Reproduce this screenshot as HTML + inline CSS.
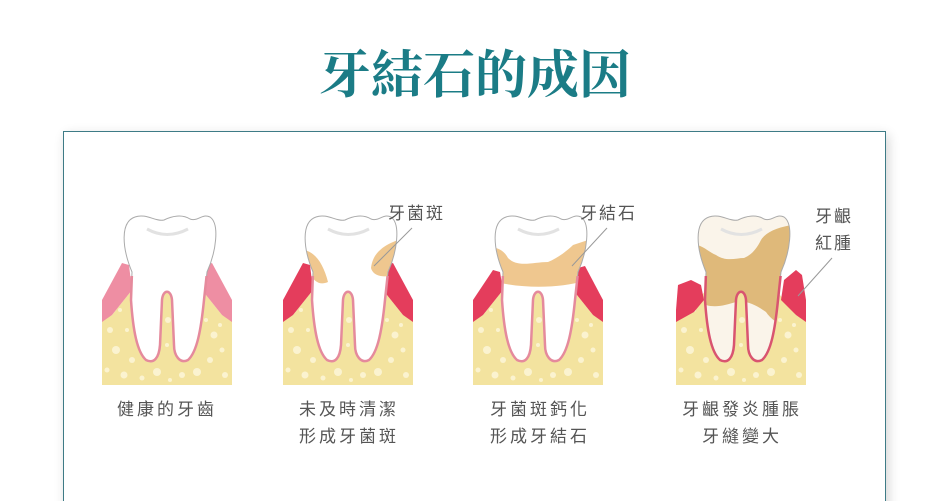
<!DOCTYPE html>
<html><head><meta charset="utf-8"><style>
html,body{margin:0;padding:0;background:#fff;width:950px;height:501px;overflow:hidden}
body{font-family:"Liberation Sans","Noto Sans CJK TC",sans-serif}
</style></head><body>
<svg width="950" height="501" viewBox="0 0 950 501" xmlns="http://www.w3.org/2000/svg">
<defs>
<filter id="sh" x="-5%" y="-5%" width="115%" height="115%"><feGaussianBlur stdDeviation="6"/></filter>
<path id="tooth" d="M30,272 C20,248 18,222 33,217 C44,213 54,222 62,220 C70,216 80,214 88,219 C96,222 100,213 108,217 C118,224 114,252 105,272 L102,300 C99,330 95,352 86,360 C78,364 72,356 72,345 L70,300 C69,289 61,289 60,300 L58,345 C57,358 52,364 44,360 C35,352 31,330 29,300 Z"/>
<clipPath id="tc"><use href="#tooth"/></clipPath>
<clipPath id="rc"><rect x="-10" y="276" width="150" height="120"/></clipPath>
<clipPath id="bc"><polygon points="0,320 10,315 30,290 100,290 120,315 130,320 130,385 0,385"/></clipPath>
<g id="bone">
<polygon points="0,320 10,315 30,290 100,290 120,315 130,320 130,385 0,385" fill="#f3e39f"/>
<g clip-path="url(#bc)" fill="#fbf3d0">
<circle cx="8" cy="330" r="3"/><circle cx="14" cy="350" r="4"/><circle cx="5" cy="370" r="2.5"/><circle cx="22" cy="375" r="3.5"/><circle cx="25" cy="330" r="2"/><circle cx="30" cy="360" r="3"/><circle cx="40" cy="378" r="2.5"/><circle cx="55" cy="372" r="4"/><circle cx="68" cy="380" r="2"/><circle cx="66" cy="320" r="3"/><circle cx="65" cy="345" r="2"/><circle cx="80" cy="375" r="3"/><circle cx="95" cy="372" r="4"/><circle cx="108" cy="360" r="3"/><circle cx="112" cy="335" r="3.5"/><circle cx="120" cy="350" r="2.5"/><circle cx="123" cy="375" r="3"/><circle cx="104" cy="320" r="2"/><circle cx="18" cy="310" r="2"/><circle cx="118" cy="325" r="2"/>
</g>
</g>
<g id="smile"><path d="M45,229 Q65,240 86,229" fill="none" stroke="#e2e2e2" stroke-width="3"/></g>
<g id="outline">
<use href="#tooth" fill="none" stroke="#aaa" stroke-width="1"/>
</g>
</defs>

<text x="475" y="93" text-anchor="middle" font-family="'Liberation Serif','Noto Serif CJK SC',serif" font-size="52" font-weight="bold" fill="#1b7c86">牙結石的成因</text>

<rect x="66" y="135" width="822" height="380" fill="#000" opacity="0.18" filter="url(#sh)"/>
<rect x="63.5" y="131.5" width="822" height="380" fill="#fff" stroke="#3e7b86" stroke-width="1"/>

<!-- tooth 1 -->
<g transform="translate(102,0)">
<use href="#bone"/>
<polygon points="0,300 20,263 27,265 30,290 10,315 0,322" fill="#ee8ea3"/>
<polygon points="130,300 110,263 103,265 100,290 120,315 130,322" fill="#ee8ea3"/>
<use href="#tooth" fill="#fff"/>
<use href="#outline"/>
<use href="#tooth" fill="none" stroke="#e58a9c" stroke-width="2.5" clip-path="url(#rc)"/>
<use href="#smile"/>
</g>

<!-- tooth 2 -->
<g transform="translate(283,0)">
<use href="#bone"/>
<polygon points="0,300 20,263 27,265 30,290 10,315 0,322" fill="#e43d5c"/>
<polygon points="130,300 110,263 103,265 100,290 120,315 130,322" fill="#e43d5c"/>
<use href="#tooth" fill="#fff"/>
<g clip-path="url(#tc)" fill="#efc78f">
<path d="M15,250 C30,248 40,262 45,282 C38,285 32,283 28,275 L15,270 Z"/>
<path d="M115,240 C105,244 90,250 88,268 C90,276 100,278 110,275 Z"/>
</g>
<use href="#outline"/>
<use href="#tooth" fill="none" stroke="#e58a9c" stroke-width="2.5" clip-path="url(#rc)"/>
<use href="#smile"/>
</g>

<!-- tooth 3 -->
<g transform="translate(473,0)">
<use href="#bone"/>
<polygon points="0,300 20,270 27,272 30,290 10,315 0,322" fill="#e43d5c"/>
<polygon points="130,300 112,266 105,268 100,290 120,315 130,322" fill="#e43d5c"/>
<use href="#tooth" fill="#fff"/>
<g clip-path="url(#tc)" fill="#efc78f">
<path d="M15,248 C25,246 32,252 35,258 C45,268 60,262 75,262 C85,258 95,250 100,245 L115,240 L115,280 C90,288 50,290 15,280 Z"/>
</g>
<use href="#outline"/>
<use href="#tooth" fill="none" stroke="#e58a9c" stroke-width="2.5" clip-path="url(#rc)"/>
<use href="#smile"/>
</g>

<!-- tooth 4 -->
<g transform="translate(676,0)">
<use href="#bone"/>
<polygon points="0,310 2,285 15,280 25,285 28,300 18,312 0,322" fill="#e43d5c"/>
<polygon points="130,300 126,275 120,270 108,280 105,300 120,315 130,322" fill="#e43d5c"/>
<use href="#tooth" fill="#faf4ea"/>
<g clip-path="url(#tc)" fill="#dfb97a">
<path d="M15,245 C25,243 32,252 40,255 C50,262 60,258 68,258 C75,255 80,250 85,240 C90,232 100,228 115,225 L115,330 C105,325 95,320 90,312 C80,305 70,300 60,302 C50,305 40,308 30,305 L15,300 Z"/>
</g>
<use href="#outline"/>
<use href="#tooth" fill="none" stroke="#d95470" stroke-width="2.5" clip-path="url(#rc)"/>
<use href="#smile"/>
</g>

<!-- callout lines -->
<g stroke="#999" stroke-width="1">
<line x1="412" y1="228" x2="374" y2="266"/>
<line x1="607" y1="228" x2="572" y2="266"/>
<line x1="832" y1="258" x2="798" y2="296"/>
</g>
<g font-size="17" fill="#555" letter-spacing="2">
<text x="388" y="219">牙菌斑</text>
<text x="580" y="219">牙結石</text>
<text x="815" y="222">牙齦</text>
<text x="815" y="249">紅腫</text>
</g>
<g font-size="17" fill="#555" letter-spacing="3" text-anchor="middle">
<text x="167" y="415">健康的牙齒</text>
<text x="349" y="415">未及時清潔</text>
<text x="349" y="442">形成牙菌斑</text>
<text x="540" y="415">牙菌斑鈣化</text>
<text x="540" y="442">形成牙結石</text>
<text x="742" y="415">牙齦發炎腫脹</text>
<text x="742" y="442">牙縫變大</text>
</g>
</svg>
</body></html>
